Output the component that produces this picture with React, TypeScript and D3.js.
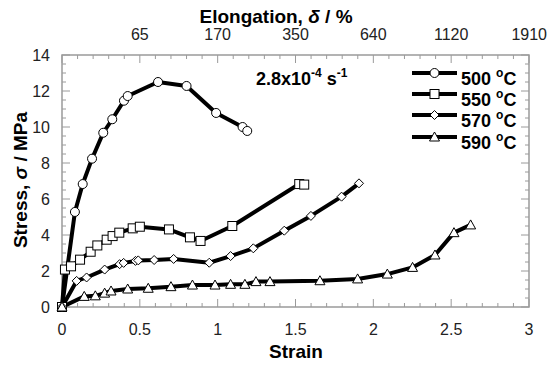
import React from "react";
import * as d3 from "d3";

const s500 = [0, 0.083, 0.133, 0.193, 0.265, 0.323, 0.398, 0.422, 0.617, 0.8, 0.99, 1.16, 1.19];
const v500 = [0, 5.28, 6.83, 8.24, 9.68, 10.43, 11.46, 11.72, 12.5, 12.28, 10.78, 10.0, 9.78];

const s550 = [0, 0.019, 0.058, 0.116, 0.184, 0.227, 0.287, 0.325, 0.368, 0.454, 0.5, 0.687, 0.822, 0.89, 1.094, 1.524, 1.556];
const v550 = [0, 2.08, 2.26, 2.63, 3.07, 3.42, 3.74, 3.94, 4.13, 4.37, 4.46, 4.31, 3.87, 3.67, 4.5, 6.83, 6.8];

const s570 = [0, 0.094, 0.158, 0.274, 0.37, 0.396, 0.472, 0.49, 0.592, 0.717, 0.946, 1.083, 1.229, 1.428, 1.599, 1.796, 1.908];
const v570 = [0, 1.45, 1.64, 2.08, 2.38, 2.45, 2.56, 2.59, 2.61, 2.67, 2.46, 2.83, 3.26, 4.24, 5.06, 6.13, 6.87];

const s590 = [0, 0.143, 0.214, 0.274, 0.315, 0.422, 0.554, 0.7, 0.838, 0.983, 1.083, 1.175, 1.246, 1.336, 1.657, 1.899, 2.09, 2.252, 2.396, 2.518, 2.625];
const v590 = [0, 0.59, 0.62, 0.77, 0.89, 1.0, 1.04, 1.13, 1.22, 1.22, 1.26, 1.26, 1.41, 1.41, 1.46, 1.56, 1.83, 2.2, 2.89, 4.13, 4.56];

const seriesNames = ["500", "550", "570", "590"];
const seriesMarkers = ["circle", "square", "diamond", "triangle"];
const xTicks = [0, 0.5, 1, 1.5, 2, 2.5, 3];
const xTickLabels = ["0", "0.5", "1", "1.5", "2", "2.5", "3"];
const topTickLabels = ["", "65", "170", "350", "640", "1120", "1910"];
const yTicks = [0, 2, 4, 6, 8, 10, 12, 14];

const FONT = "'Liberation Sans', Arial, sans-serif";

function Marker({ kind, x, y }: { kind: string; x: number; y: number }) {
  const st = { fill: "#fff", stroke: "#000", strokeWidth: 1 };
  if (kind === "circle") return <circle cx={x} cy={y} r={4.5} {...st} />;
  if (kind === "square") return <rect x={x - 4.5} y={y - 4.5} width={9} height={9} {...st} />;
  if (kind === "diamond")
    return <path d={`M${x},${y - 4.5}L${x + 4.5},${y}L${x},${y + 4.5}L${x - 4.5},${y}Z`} {...st} />;
  return <path d={`M${x},${y - 5}L${x + 5},${y + 4}L${x - 5},${y + 4}Z`} {...st} />;
}

export default function App() {
  const W = 550, H = 367;
  const x0 = 62, x1 = 529, yTop = 55, yBot = 307;
  const x = d3.scaleLinear().domain([0, 3]).range([x0, x1]);
  const y = d3.scaleLinear().domain([0, 14]).range([yBot, yTop]);
  const line = d3.line<[number, number]>().x((d) => x(d[0])).y((d) => y(d[1]));

  const series = [
    { s: s500, v: v500 },
    { s: s550, v: v550 },
    { s: s570, v: v570 },
    { s: s590, v: v590 },
  ].map((d, i) => ({
    pts: d.s.map((sv, j) => [sv, d.v[j]] as [number, number]),
    name: seriesNames[i],
    marker: seriesMarkers[i],
  }));

  const axisColor = "#9a9a9a";
  const xMinor = d3.range(0, 31).map((i) => i / 10);
  const yMinor = d3.range(0, 29).map((i) => i / 2);

  const legendRows = [73, 94, 115, 137];

  return (
    <svg width={W} height={H} style={{ position: "absolute", left: 0, top: 0 }} fontFamily={FONT}>
      <rect width={W} height={H} fill="#fff" />
      {xMinor.map((t, i) => {
        const major = i % 5 === 0;
        const L = major ? 8 : 4;
        return (
          <g key={"xt" + i} stroke={axisColor} strokeWidth={1}>
            <line x1={x(t)} x2={x(t)} y1={yBot} y2={yBot - L} />
            <line x1={x(t)} x2={x(t)} y1={yTop} y2={yTop + L} />
          </g>
        );
      })}
      {yMinor.map((t, i) => {
        const major = i % 4 === 0;
        const L = major ? 8 : 4;
        return (
          <g key={"yt" + i} stroke={axisColor} strokeWidth={1}>
            <line x1={x0} x2={x0 + L} y1={y(t)} y2={y(t)} />
            <line x1={x1} x2={x1 - L} y1={y(t)} y2={y(t)} />
          </g>
        );
      })}
      <rect x={x0} y={yTop} width={x1 - x0} height={yBot - yTop} fill="none" stroke={axisColor} strokeWidth={1.5} />

      {xTicks.map((t, i) => (
        <text key={"xl" + i} x={x(t)} y={335} textAnchor="middle" fontSize={16} fill="#222">
          {xTickLabels[i]}
        </text>
      ))}
      {xTicks.map((t, i) => (
        <text
          key={"tl" + i}
          x={i === xTicks.length - 1 ? 547 : x(t)}
          y={40}
          textAnchor={i === xTicks.length - 1 ? "end" : "middle"}
          fontSize={16}
          fill="#222"
        >
          {topTickLabels[i]}
        </text>
      ))}
      {yTicks.map((t, i) => (
        <text key={"yl" + i} x={50} y={y(t) + 6} textAnchor="end" fontSize={16} fill="#222">
          {t}
        </text>
      ))}

      <text x={296} y={358} textAnchor="middle" fontSize={19} fontWeight="bold" fill="#000">
        Strain
      </text>
      <text x={276} y={23} textAnchor="middle" fontSize={19} fontWeight="bold" fill="#000">
        Elongation, <tspan fontStyle="italic">δ</tspan> / %
      </text>
      <text
        transform={`translate(27,180) rotate(-90)`}
        textAnchor="middle"
        fontSize={19}
        fontWeight="bold"
        fill="#000"
      >
        Stress, <tspan fontStyle="italic">σ</tspan> / MPa
      </text>

      {series.map((sr, i) => (
        <path key={"l" + i} d={line(sr.pts) || ""} fill="none" stroke="#000" strokeWidth={4} strokeLinejoin="round" />
      ))}
      {series.map((sr, i) =>
        sr.pts.map((p, j) => <Marker key={"m" + i + "-" + j} kind={sr.marker} x={x(p[0])} y={y(p[1])} />)
      )}

      <text x={256} y={85} fontSize={18} fontWeight="bold" fill="#000">
        2.8x10<tspan dy={-8} fontSize={12}>-4</tspan>
        <tspan dy={8}> s</tspan>
        <tspan dy={-8} fontSize={12}>-1</tspan>
      </text>

      {series.map((sr, i) => (
        <g key={"lg" + i}>
          <line x1={412} x2={457} y1={legendRows[i]} y2={legendRows[i]} stroke="#000" strokeWidth={4} />
          <Marker kind={sr.marker} x={434.5} y={legendRows[i]} />
          <text x={461} y={legendRows[i] + 12} fontSize={18} fontWeight="bold" fill="#000">
            {sr.name} <tspan dy={-8} fontSize={12}>o</tspan>
            <tspan dy={8}>C</tspan>
          </text>
        </g>
      ))}
    </svg>
  );
}
